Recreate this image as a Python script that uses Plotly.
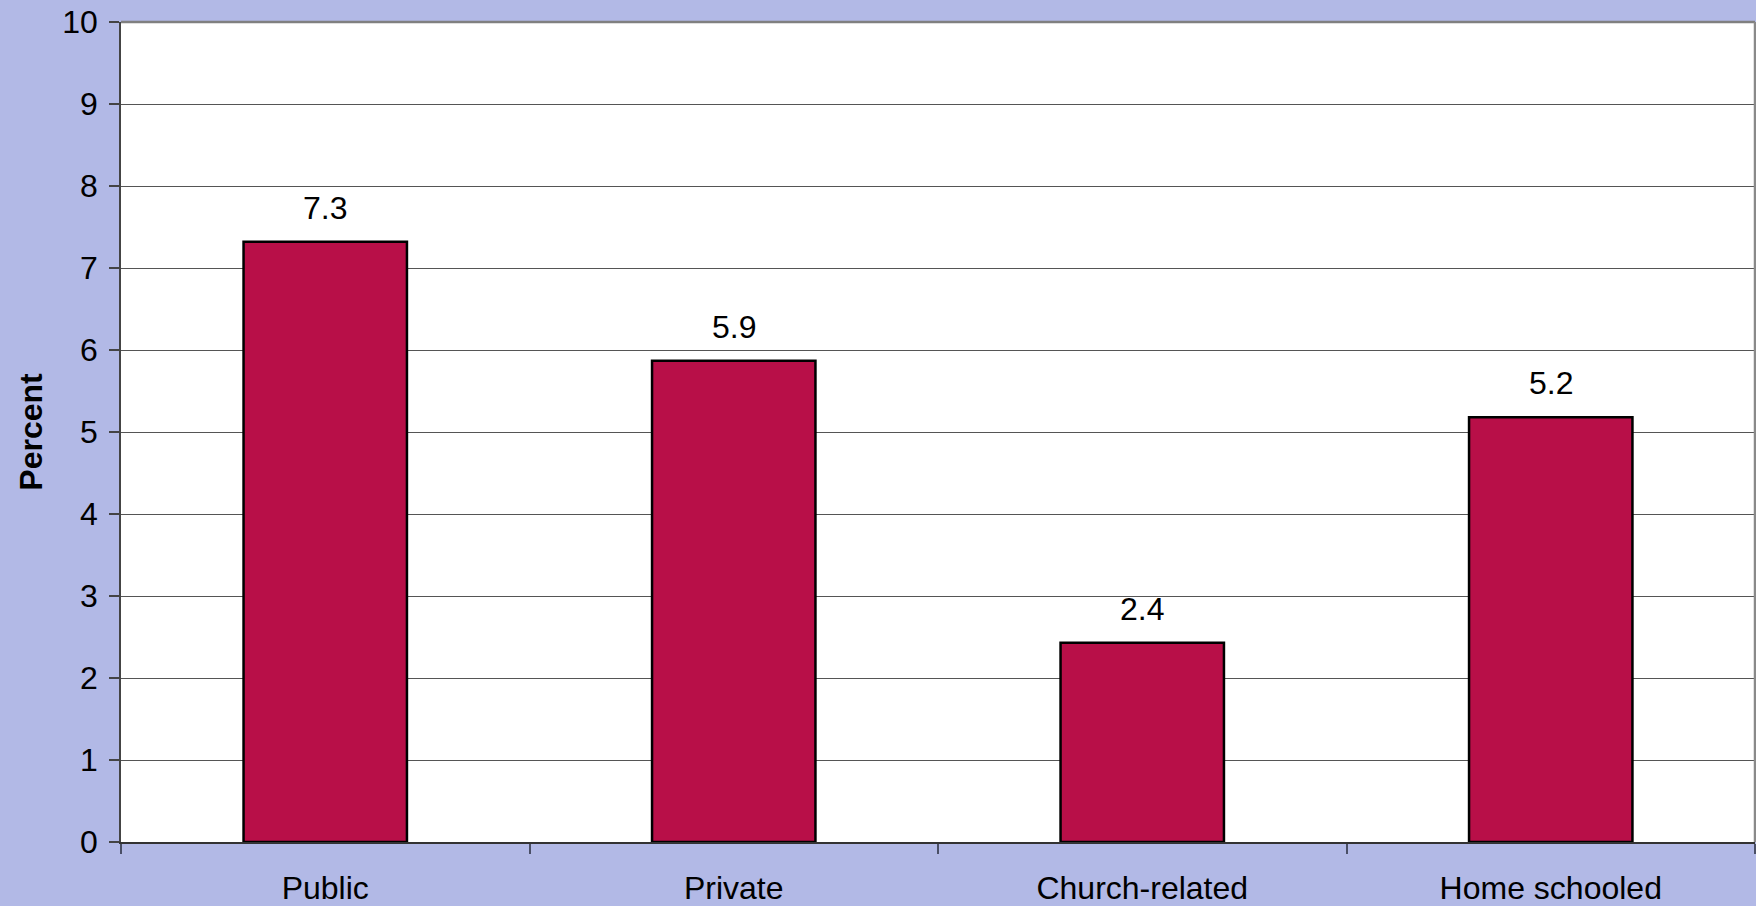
import plotly.graph_objects as go

categories = ["Public", "Private", "Church-related", "Home schooled"]
values = [7.32, 5.87, 2.43, 5.18]
labels = ["7.3", "5.9", "2.4", "5.2"]
y_ticks = list(range(0, 11))

FONT = "Liberation Sans, Arial, sans-serif"
BG = "#B2B9E6"
BAR = "#B80F48"
FS = 32

fig = go.Figure(
    go.Bar(
        x=categories,
        y=values,
        marker=dict(color=BAR, line=dict(color="black", width=2.5)),
        width=0.4,
    )
)

for c, v, t in zip(categories, values, labels):
    fig.add_annotation(
        x=c, y=v, text=t, showarrow=False, yanchor="bottom",
        yshift=14, font=dict(family=FONT, size=FS, color="black"),
    )

fig.update_layout(
    width=1756,
    height=906,
    paper_bgcolor=BG,
    plot_bgcolor="white",
    margin=dict(l=121, r=1, t=22, b=64),
    showlegend=False,
    font=dict(family=FONT, size=FS, color="black"),
    bargap=0.6,
)

fig.update_xaxes(
    type="category",
    showgrid=False,
    showline=True,
    linecolor="#333333",
    linewidth=1.5,
    ticks="outside",
    tickson="boundaries",
    ticklen=10,
    tickcolor="#4a4f66",
    tickwidth=2,
    tickfont=dict(family=FONT, size=FS, color="black"),
    ticklabelstandoff=17,
)

fig.update_yaxes(
    range=[0, 10],
    tickvals=y_ticks,
    ticktext=[str(v) for v in y_ticks],
    showgrid=True,
    gridcolor="#555555",
    gridwidth=1.2,
    showline=True,
    linecolor="#444444",
    linewidth=1.5,
    ticks="outside",
    ticklen=10,
    tickcolor="#444444",
    tickwidth=1.5,
    tickfont=dict(family=FONT, size=FS, color="black"),
    ticklabelstandoff=5,
    zeroline=False,
    title=dict(text="<b>Percent</b>", font=dict(family=FONT, size=FS, color="black"), standoff=10),
)

fig.add_shape(type="line", xref="paper", yref="paper", x0=0, x1=1, y0=1, y1=1,
              line=dict(color="#808080", width=2.5))
fig.add_shape(type="line", xref="paper", yref="paper", x0=1, x1=1, y0=0, y1=1,
              line=dict(color="#8a8a8a", width=2.5))

fig.write_html("out.html")
